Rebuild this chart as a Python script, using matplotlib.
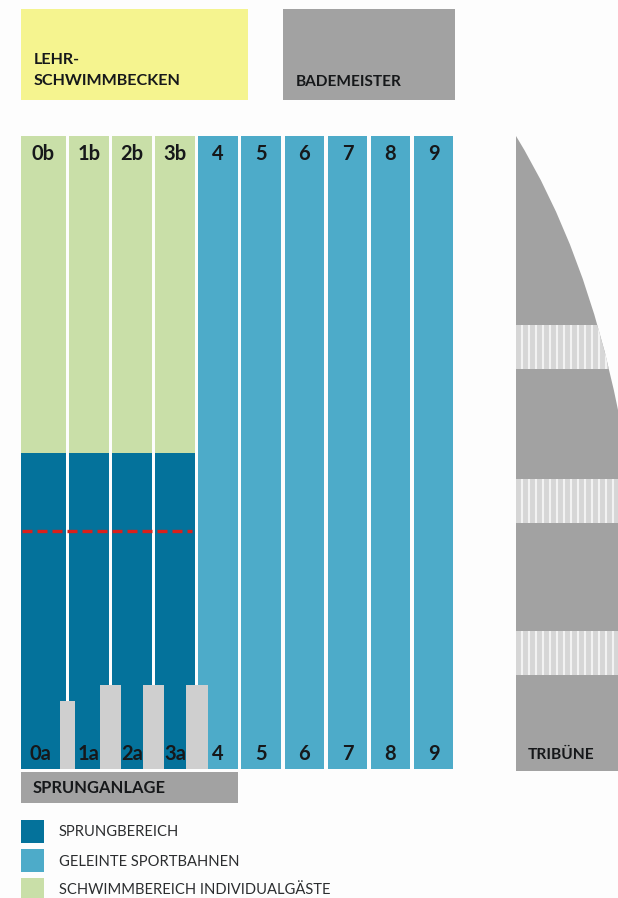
#!/usr/bin/env python3
"""Lane plan of the pool: lanes, diving towers, stand and legend."""

import matplotlib.pyplot as plt
from matplotlib.patches import PathPatch, Rectangle
from matplotlib.path import Path

plt.rcParams["font.family"] = ["Lato", "DejaVu Sans"]

# ------------- Data ------------- #

top_labels = ["0b", "1b", "2b", "3b", "4", "5", "6", "7", "8", "9"]
bottom_labels = ["0a", "1a", "2a", "3a", "4", "5", "6", "7", "8", "9"]
diving_lanes = [0, 1, 2, 3]
tower_tops = [700.5, 684.5, 684.5, 684.5]
legend_labels = ["SPRUNGBEREICH", "GELEINTE SPORTBAHNEN", "SCHWIMMBEREICH INDIVIDUALGÄSTE"]
stand_x = [516, 586, 618, 618, 516]
stand_y = [136, 250, 410, 771, 771]
stand_aisles = [(325, 369), (479, 523), (631, 675)]

# ------------- Colours / layout ------------- #

DARK = "#04729b"
BLUE = "#4dabc9"
GREEN = "#c9dfa8"
YELLOW = "#f5f48f"
GRAY = "#a2a2a2"
LIGHT = "#cfcfcf"
TEXT = "#16181a"

LANE_X0 = 21.0
LANE_STEP = 43.1
LANE_W = 39.6
POOL_TOP, POOL_SPLIT, POOL_BOTTOM = 136, 452.5, 769


def lane_left(i):
    return LANE_X0 + i * LANE_STEP


def box(ax, x0, y0, x1, y1, color, z=1):
    ax.add_patch(Rectangle((x0, y0), x1 - x0, y1 - y0, fc=color, ec="none", zorder=z))


def label(ax, x, y, s, size=11.6, weight="bold", ha="left", color=TEXT):
    ax.text(x, y, s, fontsize=size, fontweight=weight, ha=ha, va="center", color=color, zorder=6)


def draw_pool(ax):
    for i in range(len(top_labels)):
        x = LANE_X0 if i == 0 else lane_left(i) + 4.9
        w = 44.5 if i == 0 else LANE_W
        if i in diving_lanes:
            box(ax, x, POOL_TOP, x + w, POOL_SPLIT, GREEN)
            box(ax, x, POOL_SPLIT, x + w, POOL_BOTTOM, DARK)
        else:
            box(ax, x, POOL_TOP, x + w, POOL_BOTTOM, BLUE)
        cx = x + w / 2
        label(ax, cx, 154.5, top_labels[i], size=14.5, ha="center")
        label(ax, cx if i else cx - 3, 754, bottom_labels[i], size=14.5, ha="center")

    # towers stand on the lane dividers
    for i, top in zip(diving_lanes, tower_tops):
        centre = lane_left(i) + 46.5
        half = 7.3 if i == 0 else 10.7
        box(ax, centre - half, top, centre + half, POOL_BOTTOM, LIGHT, z=4)

    # red rope across the diving area
    ax.plot([22, 192], [531, 531], color="#d9201c", lw=2.4, ls=(0, (3.0, 1.5)), zorder=5)


def draw_stand(ax):
    verts = list(zip(stand_x, stand_y)) + [(stand_x[0], stand_y[0])]
    codes = [Path.MOVETO, Path.CURVE3, Path.CURVE3, Path.LINETO, Path.LINETO, Path.CLOSEPOLY]
    outline = PathPatch(Path(verts, codes), fc=GRAY, ec="none", zorder=1)
    ax.add_patch(outline)
    for y0, y1 in stand_aisles:
        bg = Rectangle((516, y0), 102, y1 - y0, fc="#d6d6d6", ec="none", zorder=2)
        ax.add_patch(bg)
        bg.set_clip_path(outline)
        x = 521.5
        while x < 618:
            line = ax.vlines(x, y0, y1, color="#f2f2f2", lw=1.5, zorder=3)
            line.set_clip_path(outline)
            x += 7.0
    label(ax, 528, 755, "TRIBÜNE", size=11.2)


def main():
    fig = plt.figure(figsize=(6.18, 8.98), dpi=100, facecolor="#fdfdfd")
    ax = fig.add_axes([0, 0, 1, 1])
    ax.set_xlim(0, 618)
    ax.set_ylim(898, 0)
    ax.axis("off")

    # --- rooms above the pool ---
    box(ax, 21, 9, 248, 100, YELLOW)
    box(ax, 282.5, 9, 454.5, 100, GRAY)
    label(ax, 34, 60.5, "LEHR-")
    label(ax, 34, 81, "SCHWIMMBECKEN")
    label(ax, 296, 82, "BADEMEISTER", size=11.1)

    draw_pool(ax)
    draw_stand(ax)

    box(ax, 21, 771.5, 238, 803, GRAY)
    label(ax, 33, 788, "SPRUNGANLAGE", size=11.9)

    # --- legend ---
    for i, (s, c) in enumerate(zip(legend_labels, [DARK, BLUE, GREEN])):
        y0 = 820 + i * 29
        box(ax, 21, y0, 44, y0 + 23, c)
        label(ax, 59, y0 + 12.5, s, size=10.6, weight="normal", color="#2b2d2f")

    fig.savefig("out.png", dpi=100, facecolor=fig.get_facecolor())


if __name__ == "__main__":
    main()
